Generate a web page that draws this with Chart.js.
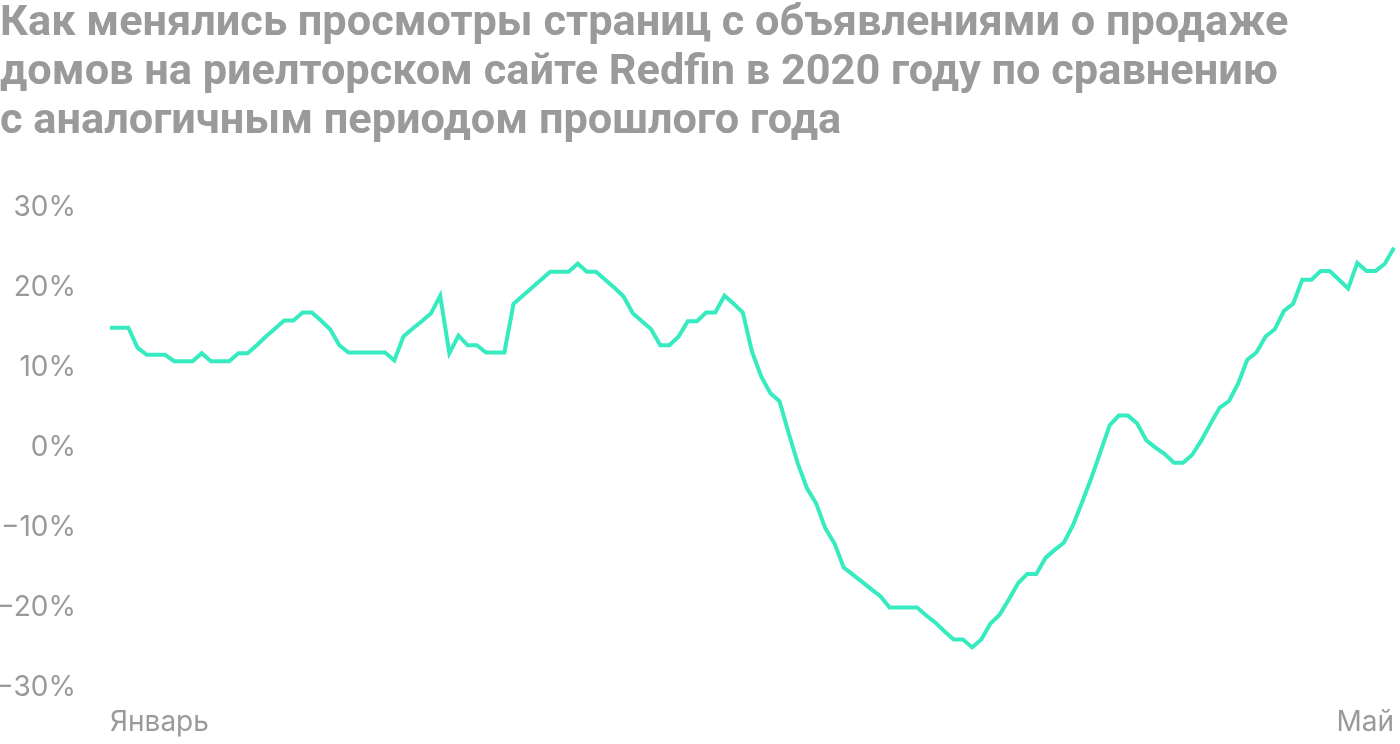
<!DOCTYPE html>
<html lang="ru">
<head>
<meta charset="utf-8">
<title>Redfin</title>
<script src="https://cdn.jsdelivr.net/npm/chart.js@4/dist/chart.umd.min.js"></script>
<style>
  html, body { margin: 0; padding: 0; background: #ffffff; overflow: hidden; }
  #wrap { width: 1400px; height: 744px; position: relative; }
  #viewsChart { display: block; }
</style>
</head>
<body>
<div id="wrap"><canvas id="viewsChart"></canvas></div>
<script>
var titleLines = [
    "Как менялись просмотры страниц с объявлениями о продаже",
    "домов на риелторском сайте Redfin в 2020 году по сравнению",
    "с аналогичным периодом прошлого года"
];

// year-over-year change, %, one point per day from early January to May
var viewsChange = [
    15, 15, 15, 12.5, 11.6, 11.6, 11.6, 10.8, 10.8, 10.8,
    11.8, 10.8, 10.8, 10.8, 11.8, 11.8, 12.8, 13.9, 14.9, 15.9,
    15.9, 16.9, 16.9, 15.9, 14.8, 12.8, 11.9, 11.9, 11.9, 11.9,
    11.9, 10.9, 13.9, 14.9, 15.8, 16.8, 19.0, 11.8, 14.0, 12.8,
    12.8, 11.9, 11.9, 11.9, 18.0, 19.0, 20.0, 21.0, 22, 22,
    22, 23, 22, 22, 21, 20, 18.9, 16.8, 15.8, 14.8,
    12.8, 12.8, 13.9, 15.8, 15.8, 16.9, 16.9, 19.0, 18.0, 16.9,
    12, 8.9, 6.8, 5.8, 1.8, -2, -5.1, -7, -10.1, -12,
    -15, -15.9, -16.8, -17.7, -18.6, -20, -20, -20, -20, -21,
    -21.9, -23, -24, -24, -25, -24, -22, -20.9, -19, -17,
    -15.8, -15.8, -13.8, -12.8, -11.9, -9.7, -6.8, -3.8, -0.5, 2.8,
    4.0, 4.0, 3.0, 0.9, 0.0, -0.8, -1.9, -1.9, -0.9, 0.9,
    3.0, 5.0, 5.8, 8.0, 11.0, 11.9, 13.9, 14.8, 17.1, 18.0,
    21, 21, 22.1, 22.1, 21, 19.9, 23.1, 22.1, 22.1, 23.0,
    25
];

var xTickLabels = ["Январь", "Май"];
var yTicks = [30, 20, 10, 0, -10, -20, -30];

var days = viewsChange.map(function (v, i) { return i; });

function formatPct(v) {
    return (v < 0 ? "\u2212" + Math.abs(v) : v) + "%";
}

var ctx = document.getElementById("viewsChart").getContext("2d");

new Chart(ctx, {
    type: "line",
    data: {
        labels: days,
        datasets: [{
            data: viewsChange,
            borderColor: "#36ebbf",
            borderWidth: 4,
            pointRadius: 0,
            tension: 0,
            fill: false
        }]
    },
    options: {
        responsive: true,
        maintainAspectRatio: false,
        animation: false,
        layout: { padding: { left: 0, right: 6, top: 0, bottom: -13 } },
        plugins: {
            legend: { display: false },
            tooltip: { enabled: false },
            title: {
                display: true,
                text: titleLines,
                align: "start",
                color: "#9a9a9a",
                font: { family: "Roboto", size: 43.3, weight: "700", lineHeight: 1.13 },
                padding: { top: 0, bottom: 61 }
            }
        },
        scales: {
            x: {
                type: "category",
                offset: false,
                grid: { display: false, drawTicks: false },
                border: { display: false },
                afterFit: function (scale) {
                    scale.paddingLeft = 0;
                    scale.paddingRight = 0;
                },
                ticks: {
                    autoSkip: false,
                    maxRotation: 0,
                    align: "inner",
                    padding: 18,
                    color: "#9a9a9a",
                    font: { family: "Inter", size: 28 },
                    callback: function (value, index) {
                        if (index === 0) return xTickLabels[0];
                        if (index === days.length - 1) return xTickLabels[1];
                        return null;
                    }
                }
            },
            y: {
                min: -30,
                max: 30,
                afterFit: function (scale) { scale.width = 110; },
                afterBuildTicks: function (scale) {
                    scale.ticks = yTicks.map(function (v) { return { value: v }; });
                },
                grid: { display: false, drawTicks: false },
                border: { display: false },
                ticks: {
                    padding: 34,
                    color: "#9a9a9a",
                    font: { family: "Inter", size: 28 },
                    callback: function (value) { return formatPct(value); }
                }
            }
        }
    }
});
</script>
</body>
</html>
